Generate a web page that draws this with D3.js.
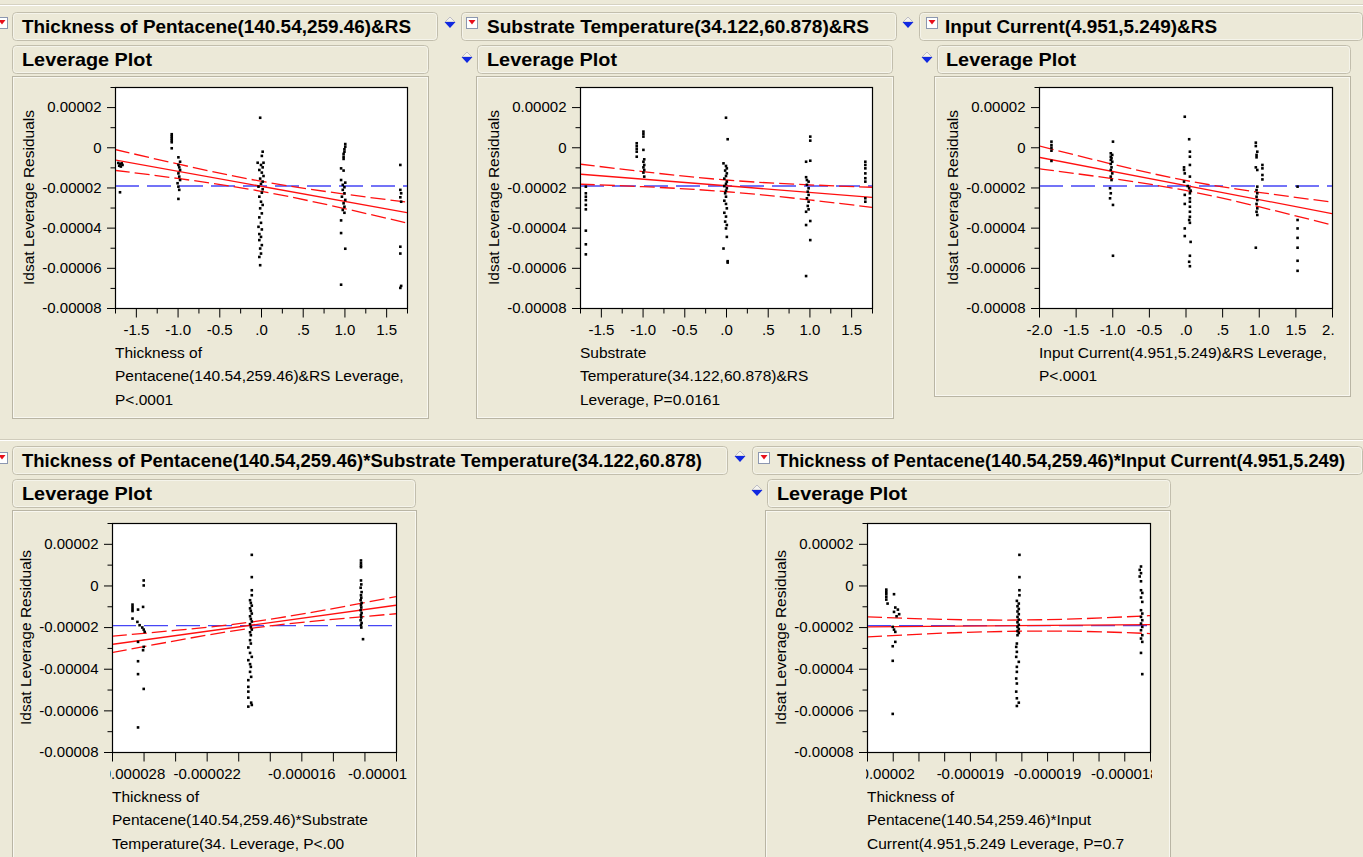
<!DOCTYPE html>
<html><head><meta charset="utf-8">
<script src="https://cdn.jsdelivr.net/npm/d3@7"></script>
<style>
html,body{margin:0;padding:0;background:#ECE9D8;overflow:hidden}
svg{display:block}
text{font-family:"Liberation Sans",Arial,sans-serif;fill:#000}
</style></head><body>
<svg id="c" width="1363" height="857"></svg>
<script>
// ---------------- DATA (y values in units of 1e-5, panel 4/5 x in units of 1e-6) ----------------
const yMajor = [2, 0, -2, -4, -6, -8];
const yMajorLabels = ["0.00002", "0", "-0.00002", "-0.00004", "-0.00006", "-0.00008"];
const yMinor = [3, 1, -1, -3, -5, -7];
const yDomain = [-8, 3];
const meanLine = -1.93;

const xTicksA = [-1.5, -1, -0.5, 0, 0.5, 1, 1.5];
const xLabelsA = ["-1.5", "-1.0", "-0.5", ".0", ".5", "1.0", "1.5"];
const xMinorA = [-1.75, -1.25, -0.75, -0.25, 0.25, 0.75, 1.25, 1.75];
const xTicks3 = [-2, -1.5, -1, -0.5, 0, 0.5, 1, 1.5, 2];
const xLabels3 = ["-2.0", "-1.5", "-1.0", "-0.5", ".0", ".5", "1.0", "1.5", "2.0"];
const xTicks4 = [-28, -26, -24, -22, -20, -18, -16, -14, -12, -10];
const xLabels4 = ["-0.000028", "", "", "-0.000022", "", "", "-0.000016", "", "", "-0.00001"];
const xTicks5 = [-20, -19.8, -19.6, -19.4, -19.2, -19, -18.8, -18.6, -18.4, -18.2, -18, -17.8];
const xLabels5 = ["", "-0.00002", "", "", "-0.000019", "", "", "-0.000019", "", "", "-0.000018", ""];

const pts1 = [
 [-1.71,-0.78],[-1.69,-0.84],[-1.67,-0.80],[-1.70,-0.92],[-1.68,-0.96],[-1.66,-0.88],[-1.69,-2.24],
 [-1.07,0.65],[-1.07,0.55],[-1.07,0.45],[-1.07,0.35],[-1.07,0.25],[-1.07,-0.05],
 [-0.99,-0.5],[-0.97,-0.72],[-0.99,-0.88],[-0.98,-1.0],[-0.97,-1.13],[-0.99,-1.3],[-0.98,-1.46],[-0.97,-1.63],[-1.0,-1.79],[-0.99,-1.96],[-0.98,-2.12],[-0.99,-2.57],
 [-0.01,1.47],[0.02,-0.22],[0.01,-0.43],[-0.04,-0.77],[0.03,-0.77],[0.0,-0.88],[0.02,-1.0],[-0.02,-1.13],[0.01,-1.26],[0.03,-1.43],[-0.01,-1.56],[0.02,-1.71],[0.0,-1.82],[-0.03,-1.96],[0.02,-2.09],[0.01,-2.26],[-0.02,-2.46],[0.0,-2.71],[0.02,-2.87],[-0.01,-3.04],[0.01,-3.29],[-0.02,-3.49],[0.0,-3.76],[-0.03,-3.96],[0.01,-4.09],[-0.02,-4.32],[0.0,-4.46],[-0.02,-4.62],[0.01,-4.87],[-0.01,-5.04],[0.0,-5.29],[-0.02,-5.46],[-0.01,-5.87],
 [1.01,0.16],[1.01,0.03],[1.0,-0.1],[1.0,-0.22],[0.99,-0.33],[0.99,-0.47],[0.99,-0.58],[0.96,-1.05],[0.99,-1.16],[0.96,-1.63],[1.01,-1.76],[0.98,-1.87],[1.0,-1.99],[0.98,-2.12],[1.0,-2.29],[0.97,-2.46],[1.01,-2.62],[0.99,-2.79],[1.0,-2.96],[0.98,-3.12],[1.0,-3.26],[0.96,-3.64],[0.96,-4.27],[1.01,-5.05],[0.96,-6.84],
 [1.67,-0.88],[1.67,-2.12],[1.68,-2.29],[1.67,-2.49],[1.68,-2.71],[1.67,-4.95],[1.67,-5.29],[1.68,-6.9],[1.67,-7.0]
];
const pts2 = [
 [-1.68,-1.96],[-1.68,-2.29],[-1.68,-2.46],[-1.68,-2.63],[-1.68,-2.87],[-1.68,-3.09],[-1.68,-4.15],[-1.68,-4.83],[-1.68,-5.33],
 [-1.07,0.2],[-1.07,0.06],[-1.07,-0.08],[-1.07,-0.22],[-1.07,-0.47],
 [-0.99,0.78],[-0.99,0.66],[-0.99,0.53],[-0.99,-0.13],[-0.98,-0.6],[-0.99,-0.72],[-0.98,-0.88],[-0.99,-1.0],[-0.98,-1.13],[-0.99,-1.26],[-0.98,-1.46],
 [0.0,1.47],[0.02,0.4],[-0.03,-0.8],[0.0,-0.93],[0.01,-1.05],[-0.01,-1.16],[0.01,-1.3],[0.0,-1.43],[-0.02,-1.56],[0.01,-1.71],[0.0,-1.82],[-0.02,-1.93],[0.01,-2.04],[0.0,-2.16],[-0.01,-2.29],[0.0,-2.46],[-0.02,-2.66],[0.0,-2.82],[0.01,-3.04],[-0.02,-3.26],[0.0,-3.45],[-0.01,-3.7],[0.01,-3.87],[0.0,-4.04],[0.01,-4.46],[-0.03,-5.04],[0.02,-5.67],[0.02,-5.74],
 [1.01,0.53],[1.01,0.33],[1.01,-0.67],[0.96,-0.72],[0.96,-1.49],[0.97,-1.63],[0.99,-1.71],[0.97,-1.87],[0.99,-2.04],[0.98,-2.21],[0.99,-2.37],[0.97,-2.54],[0.99,-2.71],[0.98,-2.92],[0.99,-3.09],[0.96,-3.21],[1.01,-3.67],[0.96,-3.87],[1.01,-4.62],[0.96,-6.41],
 [1.67,-0.72],[1.67,-0.88],[1.67,-1.05],[1.67,-1.3],[1.67,-1.54],[1.67,-1.71],[1.67,-2.54],[1.67,-2.71]
];
const pts3 = [
 [-1.83,0.28],[-1.83,0.11],[-1.83,-0.02],[-1.83,-0.17],[-1.83,-0.68],
 [-0.99,0.28],[-1.02,-0.3],[-1.0,-0.38],[-1.02,-0.47],[-1.01,-0.55],[-1.02,-0.63],[-1.0,-0.72],[-1.02,-0.83],[-1.01,-1.0],[-1.02,-1.13],[-1.0,-1.3],[-1.02,-1.46],[-1.01,-1.63],[-1.03,-2.04],[-1.02,-2.29],[-1.03,-2.54],[-0.99,-2.87],[-0.99,-5.4],
 [-0.01,1.52],[0.05,0.4],[0.06,-0.22],[0.06,-0.47],[0.06,-0.88],[-0.02,-1.0],[-0.02,-1.13],[-0.01,-1.3],[0.06,-1.46],[-0.02,-1.71],[0.03,-1.93],[0.05,-2.04],[0.07,-2.16],[0.06,-2.29],[-0.01,-2.37],[0.06,-2.54],[0.06,-2.71],[-0.01,-2.82],[0.06,-2.96],[0.06,-3.21],[0.06,-3.46],[0.05,-3.62],[0.06,-3.76],[-0.01,-4.04],[-0.01,-4.42],[0.07,-4.71],[0.06,-5.4],[0.05,-5.7],[0.06,-5.92],
 [0.96,0.23],[0.96,0.06],[0.98,-0.22],[0.97,-0.38],[0.97,-0.5],[0.96,-1.0],[0.98,-1.13],[1.05,-0.88],[1.05,-1.05],[1.05,-1.38],[1.05,-1.6],[0.98,-1.96],[0.97,-2.13],[0.98,-2.29],[0.97,-2.46],[0.98,-2.63],[0.97,-2.82],[0.98,-3.04],[0.97,-3.21],[0.98,-3.37],[0.96,-5.0],
 [1.53,-1.96],[1.53,-3.62],[1.53,-4.04],[1.53,-4.51],[1.53,-5.0],[1.53,-5.65],[1.53,-6.15]
];
const pts4 = [
 [-26.7,-0.92],[-26.7,-1.03],[-26.7,-1.14],[-26.7,-1.23],[-26.7,-1.59],
 [-25.99,0.24],[-25.99,0.0],[-26.03,-1.03],[-26.35,-1.16],[-26.39,-1.75],[-26.25,-1.91],[-26.08,-2.02],[-25.99,-2.12],[-25.93,-2.23],[-26.35,-2.71],[-25.99,-2.95],[-26.03,-3.11],[-26.35,-3.64],[-26.35,-4.26],[-25.99,-4.97],[-26.35,-6.82],
 [-19.14,1.47],[-19.14,0.4],[-19.14,-0.23],[-19.14,-0.47],[-19.25,-0.71],[-19.2,-0.84],[-19.14,-0.97],[-19.25,-1.1],[-19.2,-1.22],[-19.14,-1.35],[-19.25,-1.48],[-19.2,-1.61],[-19.14,-1.73],[-19.25,-1.86],[-19.2,-1.99],[-19.14,-2.12],[-19.25,-2.25],[-19.2,-2.39],[-19.25,-2.63],[-19.2,-2.79],[-19.36,-2.98],[-19.25,-3.24],[-19.14,-3.43],[-19.36,-3.59],[-19.25,-3.78],[-19.2,-3.91],[-19.25,-4.15],[-19.18,-4.39],[-19.36,-4.55],[-19.36,-4.87],[-19.36,-5.1],[-19.36,-5.39],[-19.18,-5.63],[-19.14,-5.74],[-19.36,-5.82],
 [-12.22,1.2],[-12.22,1.07],[-12.22,0.96],[-12.22,0.88],[-12.22,0.24],[-12.2,0.05],[-12.24,-0.11],[-12.18,-0.32],[-12.22,-0.47],[-12.2,-0.59],[-12.24,-0.71],[-12.18,-0.84],[-12.22,-0.95],[-12.2,-1.06],[-12.24,-1.19],[-12.18,-1.32],[-12.22,-1.43],[-12.2,-1.54],[-12.24,-1.67],[-12.18,-1.8],[-12.22,-1.91],[-12.2,-2.02],[-12.09,-2.58]
];
const pts5 = [
 [-19.85,-0.2],[-19.85,-0.31],[-19.85,-0.42],[-19.85,-0.55],[-19.85,-0.68],[-19.84,-0.87],
 [-19.79,-0.42],[-19.78,-1.06],[-19.76,-1.16],[-19.79,-1.27],[-19.75,-1.38],[-19.77,-1.48],[-19.8,-1.99],[-19.79,-2.12],[-19.78,-2.23],[-19.78,-2.71],[-19.8,-2.92],[-19.8,-3.62],[-19.8,-6.17],
 [-18.815,1.47],[-18.815,0.4],[-18.815,-0.23],[-18.815,-0.47],[-18.835,-0.74],[-18.82,-0.87],[-18.83,-1.0],[-18.82,-1.13],[-18.83,-1.25],[-18.82,-1.38],[-18.83,-1.51],[-18.82,-1.64],[-18.83,-1.77],[-18.82,-1.89],[-18.83,-1.99],[-18.82,-2.09],[-18.83,-2.19],[-18.82,-2.28],[-18.83,-2.39],[-18.835,-2.79],[-18.84,-2.95],[-18.835,-3.19],[-18.84,-3.43],[-18.82,-3.67],[-18.835,-3.91],[-18.835,-4.15],[-18.84,-4.47],[-18.835,-4.71],[-18.84,-5.1],[-18.835,-5.42],[-18.82,-5.63],[-18.835,-5.79],
 [-17.87,0.91],[-17.88,0.75],[-17.87,0.59],[-17.88,0.43],[-17.87,0.2],[-17.87,-0.23],[-17.86,-0.36],[-17.87,-0.58],[-17.86,-0.79],[-17.87,-1.19],[-17.86,-1.35],[-17.87,-1.51],[-17.86,-1.67],[-17.87,-1.83],[-17.86,-1.99],[-17.87,-2.15],[-17.86,-2.39],[-17.87,-2.55],[-17.86,-2.71],[-17.87,-3.24],[-17.86,-4.26]
];

const fit1X = [-1.75, 1.75], fit1Y = [-0.63, -3.25];
const band1X = [-1.75, -1, 0, 1, 1.75], band1Up = [-0.11, -0.83, -1.69, -2.33, -2.73], band1Lo = [-1.15, -1.55, -2.19, -3.05, -3.77];
const fit2X = [-1.75, 1.75], fit2Y = [-1.34, -2.49];
const band2X = [-1.75, -1, 0, 1, 1.75], band2Up = [-0.84, -1.21, -1.63, -1.87, -1.99], band2Lo = [-1.84, -1.96, -2.21, -2.62, -2.99];
const fit3X = [-2, 2], fit3Y = [-0.5, -3.3];
const band3X = [-2, -1, 0, 1, 2], band3Up = [0.07, -0.84, -1.65, -2.24, -2.73], band3Lo = [-1.07, -1.56, -2.15, -2.96, -3.87];
const fit4X = [-28, -10], fit4Y = [-2.83, -0.95];
const band4X = [-28, -24, -19.2, -14, -10], band4Up = [-2.44, -2.16, -1.76, -1.11, -0.54], band4Lo = [-3.22, -2.66, -2.06, -1.63, -1.36];
const fit5X = [-20, -17.8], fit5Y = [-1.99, -1.88];
const band5X = [-20, -19.4, -18.82, -18.3, -17.8], band5Up = [-1.51, -1.63, -1.66, -1.59, -1.45], band5Lo = [-2.47, -2.29, -2.2, -2.21, -2.31];

const titles = [
 "Thickness of Pentacene(140.54,259.46)&RS",
 "Substrate Temperature(34.122,60.878)&RS",
 "Input Current(4.951,5.249)&RS",
 "Thickness of Pentacene(140.54,259.46)*Substrate Temperature(34.122,60.878)",
 "Thickness of Pentacene(140.54,259.46)*Input Current(4.951,5.249)"
];
const subTitle = "Leverage Plot";
const yTitle = "Idsat Leverage Residuals";
const xTitles = [
 ["Thickness of", "Pentacene(140.54,259.46)&RS Leverage,", "P<.0001"],
 ["Substrate", "Temperature(34.122,60.878)&RS", "Leverage, P=0.0161"],
 ["Input Current(4.951,5.249)&RS Leverage,", "P<.0001"],
 ["Thickness of", "Pentacene(140.54,259.46)*Substrate", "Temperature(34. Leverage, P<.00"],
 ["Thickness of", "Pentacene(140.54,259.46)*Input", "Current(4.951,5.249 Leverage, P=0.7"]
];

// ---------------- LAYOUT ----------------
const svg = d3.select("#c");
const BG = "#ECE9D8", EDGE = "#C2BEAD";
const FONT = '"Liberation Sans",Arial,sans-serif';

svg.append("line").attr("x1", 0).attr("x2", 1363).attr("y1", 4.5).attr("y2", 4.5).attr("stroke", "#D6D2C2");
svg.append("line").attr("x1", 0).attr("x2", 1363).attr("y1", 5.5).attr("y2", 5.5).attr("stroke", "#FFFFFF");
svg.append("line").attr("x1", 0).attr("x2", 1363).attr("y1", 439.5).attr("y2", 439.5).attr("stroke", "#D0CCBC");
svg.append("line").attr("x1", 0).attr("x2", 1363).attr("y1", 440.5).attr("y2", 440.5).attr("stroke", "#FFFFFF");

function bar(x, y, w, h, label, tx, tw, fs) {
  svg.append("rect").attr("x", x + 0.5).attr("y", y + 0.5).attr("width", w).attr("height", h)
    .attr("rx", 4).attr("fill", BG).attr("stroke", EDGE);
  svg.append("rect").attr("x", x + 1.5).attr("y", y + 1.5).attr("width", w - 2).attr("height", h - 2)
    .attr("rx", 3).attr("fill", "none").attr("stroke", "#F7F6F0").attr("stroke-width", 0.8);
  svg.append("text").attr("x", tx).attr("y", y + h / 2 + 7)
    .attr("font-size", fs).attr("font-weight", "bold")
    .attr("textLength", tw).attr("lengthAdjust", "spacingAndGlyphs").text(label);
}
function box(x, y, w, h) {
  svg.append("rect").attr("x", x + 0.5).attr("y", y + 0.5).attr("width", w).attr("height", h)
    .attr("fill", BG).attr("stroke", "#B9B5A4");
  svg.append("rect").attr("x", x + 1.5).attr("y", y + 1.5).attr("width", w - 2).attr("height", h - 2)
    .attr("fill", "none").attr("stroke", "#FBFAF6").attr("stroke-width", 0.8);
}
function icon(x, y) {
  svg.append("rect").attr("x", x + 0.5).attr("y", y + 0.5).attr("width", 11).attr("height", 11)
    .attr("fill", "#FFFFFF").attr("stroke", "#8C97B0");
  svg.append("path").attr("d", `M${x + 2.5},${y + 3}L${x + 9.5},${y + 3}L${x + 6},${y + 7.5}Z`).attr("fill", "#E8101A");
}
function disclose(cx, cy) {
  svg.append("path").attr("d", `M${cx - 5},${cy}L${cx + 5},${cy}L${cx},${cy - 5}Z`)
    .attr("fill", "#F4F3EE").attr("stroke", "#A8A8B8").attr("stroke-width", 0.7);
  svg.append("path").attr("d", `M${cx - 5.5},${cy}L${cx + 5.5},${cy}L${cx},${cy + 6}Z`).attr("fill", "#1028E0");
}

// boxes behind
box(12, 76, 416, 342);
box(476, 76, 417, 342);
box(934, 76, 416, 320);
box(12, 510, 404, 360);
box(765, 510, 405, 360);

// header bars
bar(12, 12, 425, 28, titles[0], 22, 389, 19);
bar(461, 12, 435, 28, titles[1], 487, 382, 19);
bar(919, 12, 443, 28, titles[2], 945, 272, 19);
bar(12, 45, 416, 28, subTitle, 22, 130, 19);
bar(477, 45, 415, 28, subTitle, 487, 130, 19);
bar(937, 45, 413, 28, subTitle, 946, 130, 19);
bar(12, 446, 715, 28, titles[3], 22, 680, 19);
bar(752, 446, 610, 28, titles[4], 777, 568, 18.6);
bar(12, 479, 403, 28, subTitle, 22, 130, 19);
bar(767, 479, 403, 28, subTitle, 777, 130, 19);

icon(-4, 17); icon(466, 17); icon(926, 17); icon(-4, 452); icon(758, 452);
disclose(450, 22); disclose(908, 22); disclose(467, 57); disclose(927, 57);
disclose(740, 456); disclose(757, 490);

// ---------------- PANELS ----------------
// clipL/clipR: how far tick labels may extend past the frame; nudge: inward shift of edge labels (pixels)
const panels = [
  {frame: [115, 87, 407, 308], xDomain: [-1.75, 1.75], xt: xTicksA, xl: xLabelsA, xm: xMinorA, clipL: 30, clipR: 30, nudge: {},
   pts: pts1, fx: fit1X, fy: fit1Y, bx: band1X, bu: band1Up, bl: band1Lo, title: xTitles[0]},
  {frame: [580, 87, 872, 308], xDomain: [-1.75, 1.75], xt: xTicksA, xl: xLabelsA, xm: xMinorA, clipL: 30, clipR: 30, nudge: {},
   pts: pts2, fx: fit2X, fy: fit2Y, bx: band2X, bu: band2Up, bl: band2Lo, title: xTitles[1]},
  {frame: [1039, 87, 1332, 308], xDomain: [-2, 2], xt: xTicks3, xl: xLabels3, xm: [], clipL: 30, clipR: 2, nudge: {},
   pts: pts3, fx: fit3X, fy: fit3Y, bx: band3X, bu: band3Up, bl: band3Lo, title: xTitles[2]},
  {frame: [112, 523, 396, 752], xDomain: [-28, -10], xt: xTicks4, xl: xLabels4, xm: [], clipL: 2, clipR: 12, nudge: {0: 19, 9: -19},
   pts: pts4, fx: fit4X, fy: fit4Y, bx: band4X, bu: band4Up, bl: band4Lo, title: xTitles[3]},
  {frame: [867, 523, 1150, 752], xDomain: [-20, -17.8], xt: xTicks5, xl: xLabels5, xm: [], clipL: 1, clipR: 2, nudge: {1: -8},
   pts: pts5, fx: fit5X, fy: fit5Y, bx: band5X, bu: band5Up, bl: band5Lo, title: xTitles[4]}
];

const defs = svg.append("defs");
panels.forEach((p, i) => {
  const [x0, y0, x1, y1] = p.frame;
  const xs = d3.scaleLinear().domain(p.xDomain).range([x0, x1]);
  const ys = d3.scaleLinear().domain(yDomain).range([y1, y0]);
  const g = svg.append("g");
  g.append("rect").attr("x", x0 + 0.5).attr("y", y0 + 0.5).attr("width", x1 - x0).attr("height", y1 - y0)
    .attr("fill", "#FFFFFF").attr("stroke", "#000").attr("stroke-width", 1.2);

  defs.append("clipPath").attr("id", "clip" + i).append("rect")
    .attr("x", x0 + 1).attr("y", y0 + 1).attr("width", x1 - x0 - 1).attr("height", y1 - y0 - 1);
  defs.append("clipPath").attr("id", "lclip" + i).append("rect")
    .attr("x", x0 - p.clipL).attr("y", y1).attr("width", x1 - x0 + p.clipL + p.clipR).attr("height", 40);
  const inner = g.append("g").attr("clip-path", `url(#clip${i})`);

  // mean line
  inner.append("line").attr("x1", x0).attr("x2", x1).attr("y1", ys(meanLine)).attr("y2", ys(meanLine))
    .attr("stroke", "#4646F5").attr("stroke-width", 1.4).attr("stroke-dasharray", "24,8");

  // fit and confidence curves
  inner.append("line").attr("x1", xs(p.fx[0])).attr("x2", xs(p.fx[1]))
    .attr("y1", ys(p.fy[0])).attr("y2", ys(p.fy[1]))
    .attr("stroke", "#FF1010").attr("stroke-width", 1.3);
  const curve = d3.line().x(d => xs(d[0])).y(d => ys(d[1])).curve(d3.curveNatural);
  [p.bu, p.bl].forEach(arr => {
    inner.append("path").attr("d", curve(p.bx.map((x, k) => [x, arr[k]])))
      .attr("fill", "none").attr("stroke", "#FF1010").attr("stroke-width", 1.3)
      .attr("stroke-dasharray", "15,5");
  });

  // points
  inner.selectAll("rect.pt").data(p.pts).join("rect").attr("class", "pt")
    .attr("x", d => xs(d[0]) - 1.3).attr("y", d => ys(d[1]) - 1.3)
    .attr("width", 2.6).attr("height", 2.6).attr("fill", "#000");

  // y axis
  const ya = g.append("g").attr("transform", `translate(${x0 + 0.5},0)`)
    .call(d3.axisLeft(ys).tickValues(yMajor).tickFormat((d, k) => yMajorLabels[k]).tickSize(8.5).tickPadding(5.5));
  ya.select(".domain").remove();
  ya.selectAll("text").attr("font-size", 15).attr("font-family", FONT);
  const ym = g.append("g").attr("transform", `translate(${x0 + 0.5},0)`)
    .call(d3.axisLeft(ys).tickValues(yMinor).tickFormat("").tickSize(5));
  ym.select(".domain").remove();

  // x axis (labels clipped near the frame like the original)
  const xwrap = g.append("g").attr("clip-path", `url(#lclip${i})`);
  const xa = xwrap.append("g").attr("transform", `translate(0,${y1 + 0.5})`)
    .call(d3.axisBottom(xs).tickValues(p.xt).tickFormat((d, k) => p.xl[k]).tickSize(9).tickPadding(6.5));
  xa.select(".domain").remove();
  xa.selectAll("text").attr("font-size", 15).attr("font-family", FONT)
    .attr("dx", (d, k) => p.nudge[k] || 0);
  if (p.xm.length) {
    const xm = g.append("g").attr("transform", `translate(0,${y1 + 0.5})`)
      .call(d3.axisBottom(xs).tickValues(p.xm).tickFormat("").tickSize(5));
    xm.select(".domain").remove();
  }

  // titles
  g.append("text").attr("transform", `translate(${x0 - 81},${(y0 + y1) / 2}) rotate(-90)`)
    .attr("text-anchor", "middle").attr("font-size", 15.5).text(yTitle);
  p.title.forEach((t, k) => {
    g.append("text").attr("x", x0).attr("y", y1 + 49.5 + k * 23.5).attr("font-size", 15.5).text(t);
  });
});
</script></body></html>
